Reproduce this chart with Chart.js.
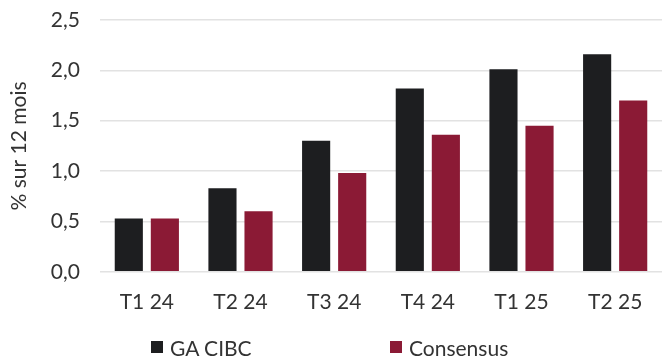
<!DOCTYPE html>
<html>
<head>
<meta charset="utf-8">
<script src="https://cdn.jsdelivr.net/npm/chart.js@4"></script>
<style>
  body { margin: 0; background: #fff; }
  #wrap { position: relative; width: 662px; height: 360px; }
  #legend { position: absolute; top: 334px; left: 0; width: 662px; height: 26px;
    font-family: Lato, sans-serif; font-size: 21px; color: #333; }
  .item { position: absolute; top: 0; display: flex; align-items: center; height: 26px; }
  .box { width: 12px; height: 12px; margin-right: 7px; }
</style>
</head>
<body>
<div id="wrap">
  <canvas id="bar_chart" width="662" height="360"></canvas>
  <div id="legend"></div>
</div>
<script>
var categories = ["T1 24", "T2 24", "T3 24", "T4 24", "T1 25", "T2 25"];
var gaCibc = [0.53, 0.83, 1.30, 1.82, 2.01, 2.16];
var consensus = [0.53, 0.60, 0.98, 1.36, 1.45, 1.70];
var yTickLabels = ["0,0", "0,5", "1,0", "1,5", "2,0", "2,5"];
var seriesNames = ["GA CIBC", "Consensus"];
var colors = ["#1d1e20", "#8b1a35"];

var config = {
    type: 'bar',
    data: {
        labels: categories,
        datasets: [{
            label: seriesNames[0],
            data: gaCibc,
            backgroundColor: colors[0]
        }, {
            label: seriesNames[1],
            data: consensus,
            backgroundColor: colors[1]
        }]
    },
    options: {
        responsive: false,
        animation: false,
        categoryPercentage: 0.77,
        barPercentage: 0.78,
        layout: { padding: { top: 20, right: 0, bottom: 27, left: 0 } },
        plugins: { legend: { display: false }, tooltip: { enabled: false } },
        scales: {
            x: {
                grid: { display: false, drawTicks: false },
                border: { display: false },
                ticks: { color: '#333', font: { family: 'Lato', size: 21 }, padding: 18 }
            },
            y: {
                min: 0, max: 2.5,
                afterFit: function(scale) { scale.width = 100; scale.paddingTop = 0; scale.paddingBottom = 0; },
                grid: { color: '#e2e2e2', lineWidth: 1.5, drawTicks: false },
                border: { display: false },
                ticks: {
                    stepSize: 0.5, padding: 20, color: '#333',
                    font: { family: 'Lato', size: 21 },
                    callback: function(v, i) { return yTickLabels[i]; }
                },
                title: {
                    display: true, text: '% sur 12 mois', color: '#333',
                    font: { family: 'Lato', size: 21 }, padding: { top: 7, bottom: 0 }
                }
            }
        }
    }
};

new Chart(document.getElementById("bar_chart").getContext("2d"), config);

var legendX = [151, 390];
var legend = document.getElementById("legend");
seriesNames.forEach(function(name, i) {
    var el = document.createElement("div");
    el.className = "item";
    el.style.left = legendX[i] + "px";
    el.innerHTML = '<span class="box" style="background:' + colors[i] + '"></span>' + name;
    legend.appendChild(el);
});
</script>
</body>
</html>
